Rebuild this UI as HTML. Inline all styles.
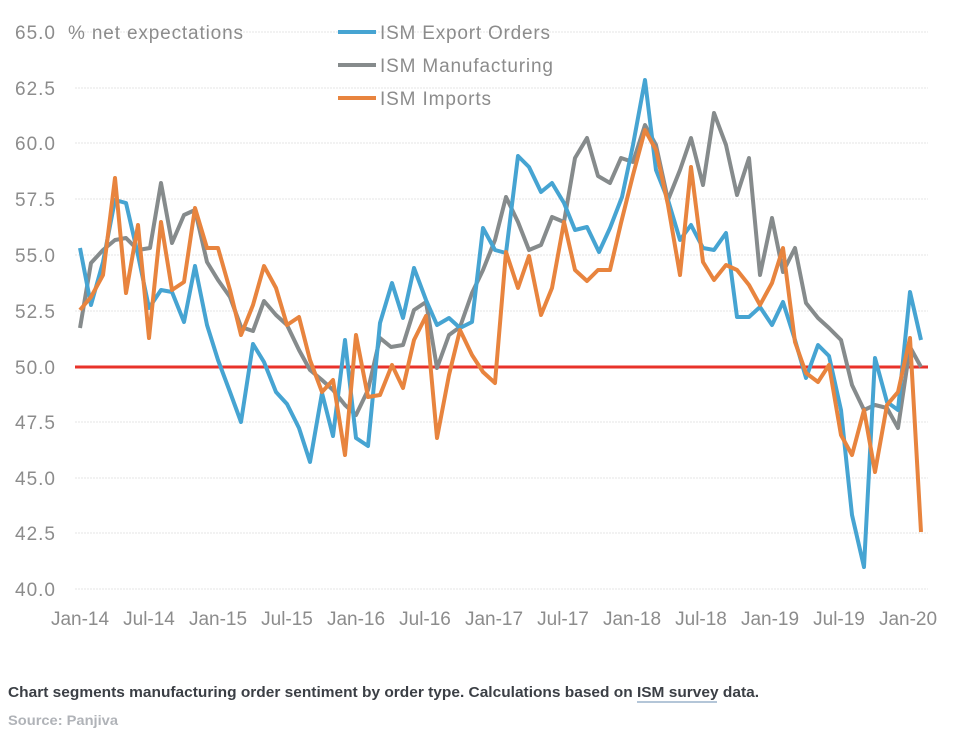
<!DOCTYPE html>
<html><head><meta charset="utf-8"><style>
html,body{margin:0;padding:0;background:#fff;}
svg{display:block;font-family:"Liberation Sans",sans-serif;}
</style></head><body>
<svg width="956" height="736" viewBox="0 0 956 736">
<rect width="956" height="650" fill="#fff"/>
<g stroke="#e6e6e6" stroke-width="1" stroke-dasharray="2,1">
<line x1="75" x2="928" y1="32" y2="32"/><line x1="75" x2="928" y1="88" y2="88"/>
<line x1="75" x2="928" y1="143" y2="143"/><line x1="75" x2="928" y1="199" y2="199"/>
<line x1="75" x2="928" y1="255" y2="255"/><line x1="75" x2="928" y1="311" y2="311"/>
<line x1="75" x2="928" y1="422" y2="422"/><line x1="75" x2="928" y1="478" y2="478"/>
<line x1="75" x2="928" y1="533" y2="533"/><line x1="75" x2="928" y1="589" y2="589"/>
</g>
<g fill="#8c8c8c" font-size="19" text-anchor="end">
<text x="55" y="39" textLength="40">65.0</text><text x="55" y="95" textLength="40">62.5</text><text x="55" y="150" textLength="40">60.0</text>
<text x="55" y="206" textLength="40">57.5</text><text x="55" y="262" textLength="40">55.0</text><text x="55" y="318" textLength="40">52.5</text>
<text x="55" y="374" textLength="40">50.0</text><text x="55" y="429" textLength="40">47.5</text><text x="55" y="485" textLength="40">45.0</text>
<text x="55" y="540" textLength="40">42.5</text><text x="55" y="596" textLength="40">40.0</text>
</g>
<text x="68" y="39" fill="#8c8c8c" font-size="19" textLength="175">% net expectations</text>
<g fill="#8c8c8c" font-size="19" text-anchor="middle">
<text x="80" y="625">Jan-14</text><text x="149" y="625">Jul-14</text><text x="218" y="625">Jan-15</text>
<text x="287" y="625">Jul-15</text><text x="356" y="625">Jan-16</text><text x="425" y="625">Jul-16</text>
<text x="494" y="625">Jan-17</text><text x="563" y="625">Jul-17</text><text x="632" y="625">Jan-18</text>
<text x="701" y="625">Jul-18</text><text x="770" y="625">Jan-19</text><text x="839" y="625">Jul-19</text>
<text x="908" y="625">Jan-20</text>
</g>
<g stroke-width="4" fill="none">
<line x1="338" x2="376" y1="32" y2="32" stroke="#46a4d2"/>
<line x1="338" x2="376" y1="65" y2="65" stroke="#868b8c"/>
<line x1="338" x2="376" y1="98" y2="98" stroke="#e8843e"/>
</g>
<g fill="#8c8c8c" font-size="19">
<text x="380" y="39" textLength="170">ISM Export Orders</text>
<text x="380" y="72" textLength="173">ISM Manufacturing</text>
<text x="380" y="105" textLength="111">ISM Imports</text>
</g>
<line x1="75" x2="928" y1="367" y2="367" stroke="#e8322a" stroke-width="3"/>
<g fill="none" stroke-width="4" stroke-linejoin="round">
<polyline stroke="#868b8c" points="80,328 91,263 103,250 115,240 126,238 138,250 150,248 161,183 172,243 184,215 195,210 207,262 218,280 230,297 241,327 253,331 264,301 276,315 287,325 299,350 310,370 322,380 333,390 345,405 356,415 368,390 380,338 391,347 403,345 414,310 426,302 437,368 449,335 460,327 472,293 483,270 495,240 506,197 518,222 529,250 541,245 552,217 564,222 575,158 587,138 598,176 610,183 621,158 633,162 645,125 656,145 668,200 680,170 691,138 703,185 714,113 726,145 737,195 749,158 760,275 772,218 783,272 795,248 806,303 818,318 829,328 841,340 852,385 864,410 875,405 887,408 898,428 910,347 921,367"/>
<polyline stroke="#46a4d2" points="80,248 91,305 103,262 115,200 126,203 138,255 149,308 161,290 172,292 184,322 195,266 207,325 218,360 230,392 241,422 253,344 264,362 276,392 287,404 299,428 310,462 322,393 333,436 345,340 356,438 368,446 380,323 392,283 403,318 414,268 426,300 437,325 449,318 460,328 472,322 483,228 495,250 506,253 518,156 529,167 541,192 552,183 564,203 575,230 587,227 599,252 610,228 622,197 633,145 645,80 656,170 668,200 680,240 691,225 703,248 714,250 726,233 737,317 749,317 760,307 772,325 783,302 795,340 806,378 818,345 829,356 841,410 852,515 864,567 875,358 887,402 898,410 910,292 921,340"/>
<polyline stroke="#e8843e" points="80,310 91,297 103,275 115,178 126,293 138,225 149,338 161,222 172,290 184,282 195,208 207,248 218,248 230,290 241,335 253,305 264,266 276,288 287,325 299,317 310,360 322,392 333,380 345,455 356,335 368,397 380,395 392,365 403,388 414,340 426,316 437,438 449,375 460,330 472,355 483,372 495,383 506,252 518,288 529,256 541,315 552,288 564,222 575,270 587,281 598,270 610,270 621,223 633,175 645,130 656,150 668,205 680,275 691,167 703,262 714,280 726,265 737,270 749,285 760,305 772,283 783,248 795,342 806,373 818,382 829,365 841,435 852,455 864,410 875,472 887,405 898,392 910,338 921,532"/>
</g>
<text x="8" y="697" font-size="14.5" font-weight="bold" fill="#3b3f45" textLength="751" lengthAdjust="spacingAndGlyphs">Chart segments manufacturing order sentiment by order type. Calculations based on ISM survey data.</text>
<line x1="637" x2="717" y1="702" y2="702" stroke="#6a8db0" stroke-width="1"/>
<text x="8" y="725" font-size="14" font-weight="bold" fill="#b0b3b8" textLength="110" lengthAdjust="spacingAndGlyphs">Source: Panjiva</text>
</svg>
</body></html>
